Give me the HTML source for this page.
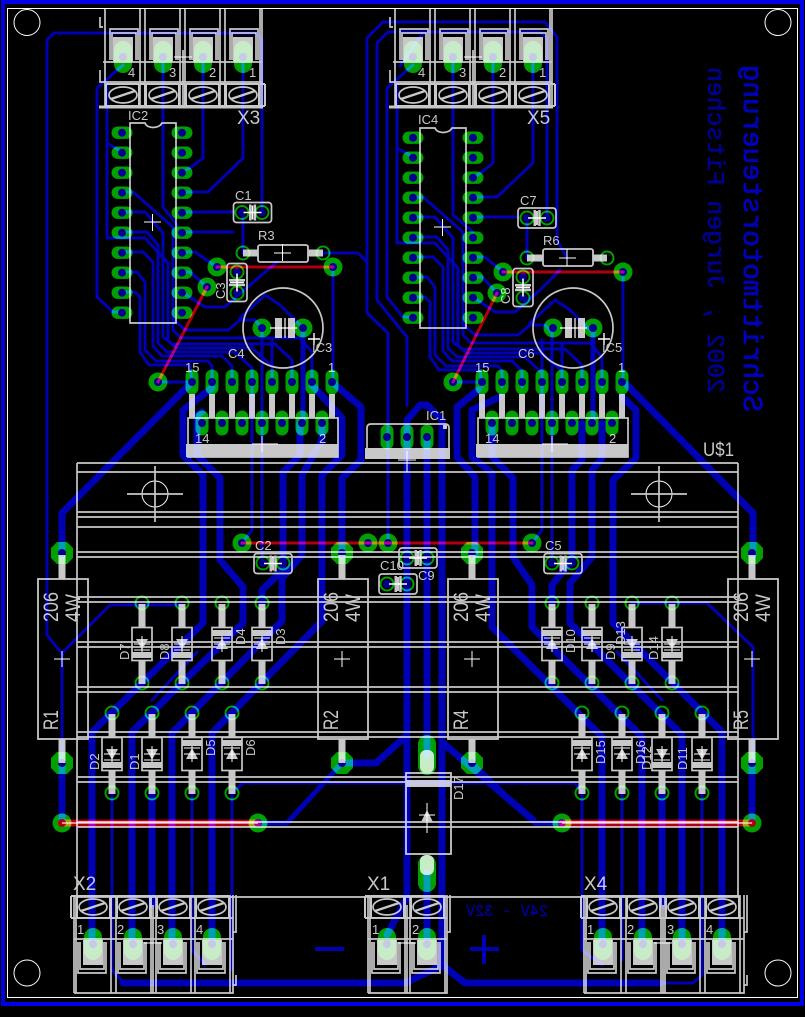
<!DOCTYPE html>
<html><head><meta charset="utf-8"><style>
html,body{margin:0;padding:0;background:#000;width:805px;height:1017px;overflow:hidden}
svg{display:block}
.s{mix-blend-mode:screen}
.t{fill:none;stroke:#0000b4;stroke-linejoin:round;stroke-linecap:round}
.k{fill:none;stroke:#c8c8c8;stroke-width:1.7}
text{font-family:"Liberation Sans",sans-serif;fill:#c8c8c8}
.a{font-size:13px}.b{font-size:21px}.c{font-size:19px}
</style></head><body>
<svg xmlns="http://www.w3.org/2000/svg" width="805" height="1017" viewBox="0 0 805 1017">
<defs>
<rect id="ph" x="-10.500" y="-6.200" width="21" height="12.400" rx="6.200" fill="#00a000"/>
<rect id="pv" x="-6.500" y="-12.500" width="13" height="25" rx="6.500" fill="#00a000"/>
<circle id="via" r="9.500" fill="#00a000"/>
<polygon id="oct" points="-5,-11 5,-11 11,-5 11,5 5,11 -5,11 -11,5 -11,-5" fill="#00a000"/>
<circle id="pr" r="6.500" fill="none" stroke="#00a000" stroke-width="2"/>
<circle id="dr" r="4" fill="#000090"/>
<rect id="tpad" x="-9" y="-16" width="18" height="32" rx="9" fill="#00a000"/>
<g id="tu">
 <path class="k" d="M-18 9V107M17 9V107M-13 60V29H15V60M-11 60V33H13V60"/>
 <rect x="-10" y="37" width="20" height="25" fill="#c8c8c8"/>
 <path d="M-17 84H16M-17 106H16M-17 84V106M16 84V106M17 84H22M17 106H22M22 84V106" fill="none" stroke="#c8c8c8" stroke-width="2"/>
 <ellipse cx="0" cy="95" rx="14" ry="8" fill="none" stroke="#c8c8c8" stroke-width="1.700"/>
 <path d="M-12 99L12 91" stroke="#c8c8c8" stroke-width="2.400"/>
</g>
<g id="dt">
 <path d="M0 -40V-16M0 16V40" stroke="#c8c8c8" stroke-width="7"/>
 <rect x="-10" y="-16.500" width="20" height="33" fill="none" stroke="#c8c8c8" stroke-width="1.700"/>
 <rect x="-10" y="-14" width="20" height="6" fill="#c8c8c8"/>
 <polygon points="-6,5 6,5 0,-6" fill="#c8c8c8"/>
 <path d="M-8 -6H8M-8 0H8M0 -8V8" stroke="#fff" stroke-width="1"/>
</g>
<g id="db">
 <path d="M0 -40V-16M0 16V40" stroke="#c8c8c8" stroke-width="7"/>
 <rect x="-10" y="-16.500" width="20" height="33" fill="none" stroke="#c8c8c8" stroke-width="1.700"/>
 <rect x="-10" y="8" width="20" height="6" fill="#c8c8c8"/>
 <polygon points="-6,-5 6,-5 0,6" fill="#c8c8c8"/>
 <path d="M-8 6H8M-8 0H8M0 -8V8" stroke="#fff" stroke-width="1"/>
</g>
<g id="cap">
 <rect x="-19" y="-10" width="38" height="20" rx="3" fill="none" stroke="#c8c8c8" stroke-width="1.700"/>
 <rect x="-3.500" y="-8" width="2.500" height="16" fill="#c8c8c8"/><rect x="1.200" y="-8" width="2.500" height="16" fill="#c8c8c8"/>
 <path d="M-9 0H9M0 -7V7" stroke="#fff" stroke-width="1.600"/>
</g>
<g id="res">
 <rect x="-24" y="0" width="50" height="160" fill="none" stroke="#c8c8c8" stroke-width="1.800"/>
 <path d="M0 -24V0M0 160V184" stroke="#c8c8c8" stroke-width="7"/>
 <path d="M-8 80H8M0 72V88" stroke="#fff" stroke-width="1"/>
</g>
<g id="mnt">
 <circle r="13" fill="none" stroke="#fff" stroke-width="1"/>
 <path d="M-28 0H28M0 -28V28" stroke="#c8c8c8" stroke-width="1.700"/>
</g>
<g id="ecap">
 <circle r="40" fill="none" stroke="#c8c8c8" stroke-width="1.700"/>
 <rect x="-8" y="-10" width="7" height="20" fill="#c8c8c8"/><rect x="5" y="-10" width="7" height="20" fill="#c8c8c8"/>
 <path d="M-13 0H14M2 -10V10" stroke="#fff" stroke-width="1.200"/>
 <path d="M25 11H37M31 5V17" stroke="#fff" stroke-width="1.400"/>
</g>
<g id="hs">
 <rect x="0" y="0" width="150" height="39" fill="none" stroke="#c8c8c8" stroke-width="1.700"/>
 <rect x="-2" y="26" width="152" height="13" fill="#c8c8c8"/>
 <path d="M4 -24V0M24 -24V0M44 -24V0M64 -24V0M84 -24V0M104 -24V0M124 -24V0M144 -24V0" stroke="#c8c8c8" stroke-width="6"/>
 <path d="M64 26H90M74 18V34" stroke="#fff" stroke-width="1"/>
</g>
<g id="hp">
 <use href="#pv" x="4" y="-36"/><use href="#pv" x="24" y="-36"/><use href="#pv" x="44" y="-36"/><use href="#pv" x="64" y="-36"/><use href="#pv" x="84" y="-36"/><use href="#pv" x="104" y="-36"/><use href="#pv" x="124" y="-36"/><use href="#pv" x="144" y="-36"/>
 <use href="#pv" x="14" y="5"/><use href="#pv" x="34" y="5"/><use href="#pv" x="54" y="5"/><use href="#pv" x="74" y="5"/><use href="#pv" x="94" y="5"/><use href="#pv" x="114" y="5"/><use href="#pv" x="134" y="5"/>
</g>
<g id="hd">
 <use href="#dr" x="4" y="-36"/><use href="#dr" x="24" y="-36"/><use href="#dr" x="44" y="-36"/><use href="#dr" x="64" y="-36"/><use href="#dr" x="84" y="-36"/><use href="#dr" x="104" y="-36"/><use href="#dr" x="124" y="-36"/><use href="#dr" x="144" y="-36"/>
 <use href="#dr" x="14" y="5"/><use href="#dr" x="34" y="5"/><use href="#dr" x="54" y="5"/><use href="#dr" x="74" y="5"/><use href="#dr" x="94" y="5"/><use href="#dr" x="114" y="5"/><use href="#dr" x="134" y="5"/>
</g>
<g id="icp">
 <use href="#ph" x="-30" y="0"/><use href="#ph" x="-30" y="20"/><use href="#ph" x="-30" y="40"/><use href="#ph" x="-30" y="60"/><use href="#ph" x="-30" y="80"/><use href="#ph" x="-30" y="100"/><use href="#ph" x="-30" y="120"/><use href="#ph" x="-30" y="140"/><use href="#ph" x="-30" y="160"/><use href="#ph" x="-30" y="180"/>
 <use href="#ph" x="30" y="0"/><use href="#ph" x="30" y="20"/><use href="#ph" x="30" y="40"/><use href="#ph" x="30" y="60"/><use href="#ph" x="30" y="80"/><use href="#ph" x="30" y="100"/><use href="#ph" x="30" y="120"/><use href="#ph" x="30" y="140"/><use href="#ph" x="30" y="160"/><use href="#ph" x="30" y="180"/>
</g>
<g id="icd">
 <use href="#dr" x="-30" y="0"/><use href="#dr" x="-30" y="20"/><use href="#dr" x="-30" y="40"/><use href="#dr" x="-30" y="60"/><use href="#dr" x="-30" y="80"/><use href="#dr" x="-30" y="100"/><use href="#dr" x="-30" y="120"/><use href="#dr" x="-30" y="140"/><use href="#dr" x="-30" y="160"/><use href="#dr" x="-30" y="180"/>
 <use href="#dr" x="30" y="0"/><use href="#dr" x="30" y="20"/><use href="#dr" x="30" y="40"/><use href="#dr" x="30" y="60"/><use href="#dr" x="30" y="80"/><use href="#dr" x="30" y="100"/><use href="#dr" x="30" y="120"/><use href="#dr" x="30" y="140"/><use href="#dr" x="30" y="160"/><use href="#dr" x="30" y="180"/>
</g>
<path id="icb" class="k" d="M-23 -9H-8C-6 -3 6 -3 9 -9H23V191H-23Z"/>
<g id="bun">
 <path d="M122 192H133L173 227V330L181 338H300L312 352V382"/>
 <path d="M122 212H145L163 233V337L172 344H275L292 360V382"/>
 <path d="M107 238H145L168 263V340L176 348H252L272 366V382"/>
 <path d="M122 232H147L158 245V343L167 352H235L252 368V382"/>
 <path d="M122 252H143L153 262V346L162 356H222L232 366V382"/>
 <path d="M122 272H137L145 282V350L156 361H208L212 366V382"/>
 <path d="M122 292H135L140 297V352L149 365H190L192 382"/>
 <path d="M262 328L255 320H240L228 330H185L172 318"/>
 <path d="M303 328L280 305L265 295L240 318"/>
 <path d="M262 328V423M272 340V382"/>
</g>
</defs>

<rect width="805" height="1017" fill="#000"/>
<rect x="3" y="2" width="799" height="1002" fill="none" stroke="#0000e6" stroke-width="4"/>

<!-- traces -->
<g class="s">
 <g class="t" stroke-width="7">
  <path d="M62 555V513L192 382"/>
  <path d="M62 763V823"/>
  <path d="M212 388L183 410V455L203 475V623L92 732V940"/>
  <path d="M202 412L197 415V455L220 478V560L243 587V623L132 732V940"/>
  <path d="M322 423V440L302 475V555L282 578V621L172 733V940"/>
  <path d="M312 385L342 418V455L322 475V621L212 733V940"/>
  <path d="M300 423V455L283 472V570L262 590V603"/>
  <path d="M332 382L361 407V460L342 478V555"/>
  <path d="M342 763H376L407 735"/>
  <path d="M407 437V420L420 405H427L442 420V965L465 983H660"/>
  <path d="M407 437V897L387 935"/>
  <path d="M427 437V755M427 873V940"/>
  <path d="M123 983H405L443 965"/>
  <path d="M443 743L533 820"/>
  <path d="M627 385L753 513V555"/>
  <path d="M752 763V823"/>
  <path d="M478 390L457 407V457L475 477V555"/>
  <path d="M500 397L472 410V457L492 473V627L602 737V940"/>
  <path d="M492 423V457L513 478V557L532 585V627L642 737V940"/>
  <path d="M582 423V460L572 470V560L552 585V603"/>
  <path d="M602 423V458L592 470V557L570 583V623L682 735V940"/>
  <path d="M622 397L636 410V458L613 480V623L722 732V940"/>
  <path d="M152 793V905M662 793V905"/>
 </g>
 <g class="t" stroke-width="5">
  <path d="M342 763L287 823H258"/>
  <path d="M472 763L535 823H562"/>
  <path d="M303 328V423M593 328V423"/>
 </g>
 <g class="t" stroke-width="3">
  <path d="M63 655L47 635V40L54 33H256L262 40V212"/>
  <path d="M63 652L110 605H182"/>
  <path d="M62 655V763"/>
  <path d="M123 65L97 88V297L113 312H122"/>
  <path d="M107 85V238M107 143L122 152"/>
  <path d="M163 60V207L177 225M203 60V158L190 168L182 172M243 60V158L208 192H182M182 212H233M243 212V253M182 232H233"/>
  <path d="M182 252H195L217 267M182 272H190L207 287M182 292L205 307H225L250 285L277 262"/>
  <path d="M323 253H358L367 262V313L388 333V543M395 22H383L367 38V262M395 32H388L377 43V300L407 337V405"/>
  <path d="M413 65L387 88V297L403 317H413M397 85V243M397 148L413 157"/>
  <path d="M333 267V382M252 382V530L242 543M262 423V563M552 423V563M542 340V530L532 543"/>
  <path d="M112 793V970L123 982M192 793V950L205 965M232 793V970"/>
  <path d="M232 793L243 783H575L582 793"/>
  <path d="M582 793V950L602 965M622 793V960M702 793V975L693 983H660"/>
  <path d="M632 603H707L753 647V763"/>
  <path d="M453 60V215L473 232M493 60V163L478 175L473 177M533 60V163L497 197H473M473 217H518M527 218V258"/>
  <path d="M400 32H540L547 38V218M395 22H545L557 37V240L567 258"/>
  <path d="M473 257H485L503 272M473 277H482L497 293M473 297L495 312H515L540 290L560 270"/>
  <path d="M623 272V382M400 66L423 33"/>
  <path d="M152 700L197 652M662 700L617 652"/>
  <use href="#bun"/>
  <use href="#bun" transform="translate(290,5)"/>
 </g>
 <path d="M453 382H482M158 382H192" class="t" stroke-width="3"/>
 <text transform="translate(744,412) scale(-1,1) rotate(-90)" style="font-family:'Liberation Mono',monospace;font-size:27px;fill:#0000b4;stroke:#0000b4;stroke-width:.9" textLength="347" lengthAdjust="spacingAndGlyphs">Schrittmotorsteuerung</text>
 <text transform="translate(708,393) scale(-1,1) rotate(-90)" style="font-family:'Liberation Mono',monospace;font-size:24px;fill:#000090;stroke:#000090;stroke-width:.6" textLength="326" lengthAdjust="spacingAndGlyphs">2002 , Jurgen Fitschen</text>
 <text transform="translate(548,916) scale(-1,1)" style="font-family:'Liberation Mono',monospace;font-size:17px;fill:#000090;stroke:#000090;stroke-width:.5" textLength="82" lengthAdjust="spacingAndGlyphs">24V - 32V</text>
 <path d="M315 949H344M470 949H499M484 935V964" stroke="#0000b4" stroke-width="4" fill="none"/>
</g>

<!-- pads -->
<g class="s">
 <use href="#icp" x="152" y="132.700"/><use href="#icp" x="443" y="137.700"/>
 <use href="#hp" x="188" y="418"/><use href="#hp" x="478" y="418"/>
 <use href="#pv" x="387" y="437"/><use href="#pv" x="407" y="437"/><use href="#pv" x="427" y="437"/>
 <use href="#tpad" x="123" y="57"/><use href="#tpad" x="163" y="57"/><use href="#tpad" x="203" y="57"/><use href="#tpad" x="243" y="57"/>
 <use href="#tpad" x="413" y="57"/><use href="#tpad" x="453" y="57"/><use href="#tpad" x="493" y="57"/><use href="#tpad" x="533" y="57"/>
 <use href="#tpad" x="93" y="944"/><use href="#tpad" x="133" y="944"/><use href="#tpad" x="173" y="944"/><use href="#tpad" x="212" y="944"/>
 <use href="#tpad" x="387" y="944"/><use href="#tpad" x="427" y="944"/>
 <use href="#tpad" x="603" y="944"/><use href="#tpad" x="643" y="944"/><use href="#tpad" x="682" y="944"/><use href="#tpad" x="722" y="944"/>
 <use href="#via" x="217" y="267"/><use href="#via" x="333" y="267"/><use href="#via" x="207" y="287"/><use href="#via" x="158" y="382"/>
 <use href="#via" x="503" y="272"/><use href="#via" x="623" y="272"/><use href="#via" x="497" y="293"/><use href="#via" x="453" y="382"/>
 <use href="#via" x="242" y="543"/><use href="#via" x="368" y="543"/><use href="#via" x="388" y="543"/><use href="#via" x="532" y="543"/>
 <use href="#via" x="62" y="823"/><use href="#via" x="258" y="823"/><use href="#via" x="562" y="823"/><use href="#via" x="752" y="823"/>
 <use href="#via" x="262" y="328"/><use href="#via" x="303" y="328"/><use href="#via" x="553" y="328"/><use href="#via" x="593" y="328"/>
 <use href="#oct" x="62" y="553"/><use href="#oct" x="62" y="763"/><use href="#oct" x="342" y="553"/><use href="#oct" x="342" y="763"/>
 <use href="#oct" x="472" y="553"/><use href="#oct" x="472" y="763"/><use href="#oct" x="752" y="553"/><use href="#oct" x="752" y="763"/>
 <rect x="418" y="735" width="18" height="40" rx="9" fill="#00a000"/><rect x="418" y="855" width="18" height="37" rx="9" fill="#00a000"/>
 <use href="#pr" x="142" y="603"/><use href="#pr" x="182" y="603"/><use href="#pr" x="222" y="603"/><use href="#pr" x="262" y="603"/>
 <use href="#pr" x="142" y="683"/><use href="#pr" x="182" y="683"/><use href="#pr" x="222" y="683"/><use href="#pr" x="262" y="683"/>
 <use href="#pr" x="112" y="713"/><use href="#pr" x="152" y="713"/><use href="#pr" x="192" y="713"/><use href="#pr" x="232" y="713"/>
 <use href="#pr" x="112" y="793"/><use href="#pr" x="152" y="793"/><use href="#pr" x="192" y="793"/><use href="#pr" x="232" y="793"/>
 <use href="#pr" x="552" y="603"/><use href="#pr" x="592" y="603"/><use href="#pr" x="632" y="603"/><use href="#pr" x="672" y="603"/>
 <use href="#pr" x="552" y="683"/><use href="#pr" x="592" y="683"/><use href="#pr" x="632" y="683"/><use href="#pr" x="672" y="683"/>
 <use href="#pr" x="582" y="713"/><use href="#pr" x="622" y="713"/><use href="#pr" x="662" y="713"/><use href="#pr" x="702" y="713"/>
 <use href="#pr" x="582" y="793"/><use href="#pr" x="622" y="793"/><use href="#pr" x="662" y="793"/><use href="#pr" x="702" y="793"/>
 <use href="#pr" x="242" y="212.500"/><use href="#pr" x="262" y="212.500"/><use href="#pr" x="243" y="253"/><use href="#pr" x="323" y="253"/>
 <use href="#pr" x="237" y="272"/><use href="#pr" x="237" y="293"/>
 <use href="#pr" x="527" y="218"/><use href="#pr" x="547" y="218"/><use href="#pr" x="527" y="258"/><use href="#pr" x="607" y="258"/>
 <use href="#pr" x="523" y="277"/><use href="#pr" x="523" y="298"/>
 <use href="#pr" x="263" y="563"/><use href="#pr" x="283" y="563"/><use href="#pr" x="552" y="563"/><use href="#pr" x="572" y="563"/>
 <use href="#pr" x="407" y="558"/><use href="#pr" x="427" y="558"/><use href="#pr" x="387" y="584"/><use href="#pr" x="407" y="584"/>
</g>

<!-- drills -->
<g>
 <use href="#icd" x="152" y="132.700"/><use href="#icd" x="443" y="137.700"/>
 <use href="#hd" x="188" y="418"/><use href="#hd" x="478" y="418"/>
 <use href="#dr" x="123" y="57"/><use href="#dr" x="163" y="57"/><use href="#dr" x="203" y="57"/><use href="#dr" x="243" y="57"/>
 <use href="#dr" x="413" y="57"/><use href="#dr" x="453" y="57"/><use href="#dr" x="493" y="57"/><use href="#dr" x="533" y="57"/>
 <use href="#dr" x="93" y="944"/><use href="#dr" x="133" y="944"/><use href="#dr" x="173" y="944"/><use href="#dr" x="212" y="944"/>
 <use href="#dr" x="387" y="944"/><use href="#dr" x="427" y="944"/>
 <use href="#dr" x="603" y="944"/><use href="#dr" x="643" y="944"/><use href="#dr" x="682" y="944"/><use href="#dr" x="722" y="944"/>
 <use href="#dr" x="217" y="267"/><use href="#dr" x="333" y="267"/><use href="#dr" x="207" y="287"/><use href="#dr" x="158" y="382"/>
 <use href="#dr" x="503" y="272"/><use href="#dr" x="623" y="272"/><use href="#dr" x="497" y="293"/><use href="#dr" x="453" y="382"/>
 <use href="#dr" x="242" y="543"/><use href="#dr" x="368" y="543"/><use href="#dr" x="388" y="543"/><use href="#dr" x="532" y="543"/>
 <use href="#dr" x="258" y="823"/><use href="#dr" x="562" y="823"/>
 <use href="#dr" x="262" y="328"/><use href="#dr" x="303" y="328"/><use href="#dr" x="553" y="328"/><use href="#dr" x="593" y="328"/>
 <use href="#dr" x="387" y="437"/><use href="#dr" x="407" y="437"/><use href="#dr" x="427" y="437"/>
 <use href="#dr" x="62" y="553"/><use href="#dr" x="62" y="763"/><use href="#dr" x="342" y="553"/><use href="#dr" x="342" y="763"/>
 <use href="#dr" x="472" y="553"/><use href="#dr" x="472" y="763"/><use href="#dr" x="752" y="553"/><use href="#dr" x="752" y="763"/>
 <use href="#dr" x="242" y="212.500"/><use href="#dr" x="262" y="212.500"/><use href="#dr" x="237" y="272"/><use href="#dr" x="237" y="293"/>
 <use href="#dr" x="527" y="218"/><use href="#dr" x="547" y="218"/><use href="#dr" x="523" y="277"/><use href="#dr" x="523" y="298"/>
 <use href="#dr" x="263" y="563"/><use href="#dr" x="283" y="563"/><use href="#dr" x="552" y="563"/><use href="#dr" x="572" y="563"/>
 <use href="#dr" x="407" y="558"/><use href="#dr" x="427" y="558"/><use href="#dr" x="387" y="584"/><use href="#dr" x="407" y="584"/>
</g>

<!-- red top layer -->
<g class="s" fill="none" stroke="#b00010" stroke-linecap="round">
 <path d="M217 267H333M207 287L158 382M503 272H623M497 293L453 382M242 543H532" stroke-width="3"/>
 <path d="M62 823H258M562 823H752" stroke-width="7"/>
</g>
<circle cx="62" cy="823" r="4" fill="#b00010"/><circle cx="752" cy="823" r="4" fill="#b00010"/>

<!-- silk -->
<g class="s">
 <path class="k" d="M77 463H738M77 472H738M77 512H738M77 517H738M77 527H738M77 552H738M77 557H738M77 597H738M77 602H738M77 642H738M77 647H738M77 687H738M77 692H738M77 732H738M77 737H738M77 777H738M77 782H738M77 822H738M77 827H738M77 897H738M77 463V897M738 463V897"/>
 <use href="#mnt" x="155" y="494"/><use href="#mnt" x="659" y="494"/>

 <use href="#tu" x="123"/><use href="#tu" x="163"/><use href="#tu" x="203"/><use href="#tu" x="243"/>
 <use href="#tu" x="413"/><use href="#tu" x="453"/><use href="#tu" x="493"/><use href="#tu" x="533"/>
 <path class="k" d="M103 62H262M103 82H262M262 9V107M100 17V27H103M100 70V82H103M183 50V107M393 62H552M393 82H552M552 9V107M390 17V27H393M390 70V82H393M473 50V107"/>
 <path d="M99 107H263M389 107H553" stroke="#c8c8c8" stroke-width="3"/>
 <path d="M174 57H192M464 57H482" stroke="#fff" stroke-width="1"/>

 <use href="#tu" transform="translate(93,1002) rotate(180)"/><use href="#tu" transform="translate(133,1002) rotate(180)"/><use href="#tu" transform="translate(173,1002) rotate(180)"/><use href="#tu" transform="translate(212,1002) rotate(180)"/>
 <use href="#tu" transform="translate(387,1002) rotate(180)"/><use href="#tu" transform="translate(427,1002) rotate(180)"/>
 <use href="#tu" transform="translate(603,1002) rotate(180)"/><use href="#tu" transform="translate(643,1002) rotate(180)"/><use href="#tu" transform="translate(682,1002) rotate(180)"/><use href="#tu" transform="translate(722,1002) rotate(180)"/>
 <path class="k" d="M74 918H233M74 939H233M74 895V993M233 895V993H74M153 905V993M236 895V932H233M236 975V985H233M368 918H447M368 939H447M368 895V993M447 895V993H368M407 905V993M450 895V932H447M584 918H744M584 939H744M584 895V993M744 895V993H584M663 905V993M747 895V932H744M747 975V985H744"/>
 <path d="M144 943H162M398 943H416M654 943H672" stroke="#fff" stroke-width="1"/>

 <use href="#icb" x="153" y="132"/><use href="#icb" x="443" y="137"/>
 <path d="M144 222H161M152.500 214V231M434 227H451M442.500 219V236" stroke="#fff" stroke-width="1"/>

 <use href="#cap" x="252.500" y="212.500"/><use href="#cap" x="537" y="218"/>
 <use href="#cap" transform="translate(237,282.500) rotate(90)"/><use href="#cap" transform="translate(523,287.500) rotate(90)"/>
 <use href="#cap" x="273" y="563.500"/><use href="#cap" x="563" y="563.500"/><use href="#cap" x="418" y="558"/><use href="#cap" x="398" y="584"/>

 <path d="M243 253H258M308 253H323M527 258H543M593 258H607" stroke="#c8c8c8" stroke-width="7"/>
 <rect x="258" y="245" width="50" height="17" rx="2" fill-opacity="0" stroke="#c8c8c8" stroke-width="1.800"/>
 <rect x="543" y="249" width="50" height="17" rx="2" fill-opacity="0" stroke="#c8c8c8" stroke-width="1.800"/>
 <path d="M274 253H291M282.500 244V261M559 258H576M567 249V266" stroke="#fff" stroke-width="1"/>

 <use href="#ecap" x="283" y="328"/><use href="#ecap" x="573" y="328"/>
 <use href="#hs" x="188" y="418"/><use href="#hs" x="478" y="418"/>

 <path class="k" d="M367 448V428Q367 424 371 424H445Q449 424 449 428V448"/>
 <rect x="365" y="448" width="85" height="11" fill="#c8c8c8"/>
 <rect x="443" y="425" width="4" height="4" fill="#c8c8c8"/>
 <path d="M398 460H416M407 451V472" stroke="#fff" stroke-width="1"/>

 <use href="#res" x="62" y="579"/><use href="#res" x="342" y="579"/><use href="#res" x="472" y="579"/><use href="#res" x="752" y="579"/>

 <use href="#db" x="142" y="644"/><use href="#db" x="182" y="644"/><use href="#dt" x="222" y="644"/><use href="#dt" x="262" y="644"/>
 <use href="#db" x="112" y="754"/><use href="#db" x="152" y="754"/><use href="#dt" x="192" y="754"/><use href="#dt" x="232" y="754"/>
 <use href="#dt" x="552" y="644"/><use href="#dt" x="592" y="644"/><use href="#db" x="632" y="644"/><use href="#db" x="672" y="644"/>
 <use href="#dt" x="582" y="754"/><use href="#dt" x="622" y="754"/><use href="#db" x="662" y="754"/><use href="#db" x="702" y="754"/>

 <rect x="406" y="773" width="45" height="81" fill="none" stroke="#c8c8c8" stroke-width="1.800"/>
 <rect x="406" y="780" width="45" height="7" fill="#c8c8c8"/>
 <rect x="420" y="750" width="14" height="23" rx="6" fill="#c8c8c8"/><rect x="420" y="855" width="14" height="20" rx="6" fill="#c8c8c8"/>
 <polygon points="421,822 433,822 427,810" fill="#c8c8c8"/>
 <path d="M419 815H435M427 803V833" stroke="#fff" stroke-width="1"/>

 <text class="a" x="128" y="120">IC2</text><text class="a" x="418" y="124">IC4</text>
 <text class="c" x="237" y="124">X3</text><text class="c" x="527" y="124">X5</text>
 <text class="a" x="128" y="77">4</text><text class="a" x="169" y="77">3</text><text class="a" x="209" y="77">2</text><text class="a" x="249" y="77">1</text>
 <text class="a" x="418" y="77">4</text><text class="a" x="459" y="77">3</text><text class="a" x="499" y="77">2</text><text class="a" x="539" y="77">1</text>
 <text class="a" x="235" y="200">C1</text><text class="a" x="520" y="205">C7</text>
 <text class="a" x="258" y="240">R3</text><text class="a" x="543" y="245">R6</text>
 <text class="a" transform="translate(225,299) rotate(-90)">C3</text><text class="a" transform="translate(510,304) rotate(-90)">C8</text>
 <text class="a" x="228" y="358">C4</text><text class="a" x="518" y="358">C6</text>
 <text class="a" x="312" y="352">IC3</text><text class="a" x="602" y="352">IC5</text>
 <text class="a" x="185" y="372">15</text><text class="a" x="328" y="372">1</text><text class="a" x="475" y="372">15</text><text class="a" x="618" y="372">1</text>
 <text class="a" x="195" y="443">14</text><text class="a" x="319" y="443">2</text><text class="a" x="485" y="443">14</text><text class="a" x="609" y="443">2</text>
 <text class="a" x="426" y="420">IC1</text>
 <text class="c" x="703" y="456" textLength="31" lengthAdjust="spacingAndGlyphs">U$1</text>
 <text class="a" x="255" y="550">C2</text><text class="a" x="545" y="550">C5</text><text class="a" x="380" y="570">C10</text><text class="a" x="418" y="580">C9</text>

 <text class="b" transform="translate(58,622) rotate(-90)" textLength="30" lengthAdjust="spacingAndGlyphs">206</text>
 <text class="b" transform="translate(80,622) rotate(-90)" textLength="28" lengthAdjust="spacingAndGlyphs">4W</text>
 <text class="b" transform="translate(58,730) rotate(-90)" textLength="20" lengthAdjust="spacingAndGlyphs">R1</text>
 <text class="b" transform="translate(338,622) rotate(-90)" textLength="30" lengthAdjust="spacingAndGlyphs">206</text>
 <text class="b" transform="translate(360,622) rotate(-90)" textLength="28" lengthAdjust="spacingAndGlyphs">4W</text>
 <text class="b" transform="translate(338,730) rotate(-90)" textLength="20" lengthAdjust="spacingAndGlyphs">R2</text>
 <text class="b" transform="translate(468,622) rotate(-90)" textLength="30" lengthAdjust="spacingAndGlyphs">206</text>
 <text class="b" transform="translate(490,622) rotate(-90)" textLength="28" lengthAdjust="spacingAndGlyphs">4W</text>
 <text class="b" transform="translate(468,730) rotate(-90)" textLength="20" lengthAdjust="spacingAndGlyphs">R4</text>
 <text class="b" transform="translate(748,622) rotate(-90)" textLength="30" lengthAdjust="spacingAndGlyphs">206</text>
 <text class="b" transform="translate(770,622) rotate(-90)" textLength="28" lengthAdjust="spacingAndGlyphs">4W</text>
 <text class="b" transform="translate(748,730) rotate(-90)" textLength="20" lengthAdjust="spacingAndGlyphs">R5</text>

 <text class="a" transform="translate(129,660) rotate(-90)">D7</text>
 <text class="a" transform="translate(169,660) rotate(-90)">D8</text>
 <text class="a" transform="translate(245,645) rotate(-90)">D4</text>
 <text class="a" transform="translate(285,645) rotate(-90)">D3</text>
 <text class="a" transform="translate(99,770) rotate(-90)">D2</text>
 <text class="a" transform="translate(139,770) rotate(-90)">D1</text>
 <text class="a" transform="translate(215,756) rotate(-90)">D5</text>
 <text class="a" transform="translate(255,756) rotate(-90)">D6</text>
 <text class="a" transform="translate(575,653) rotate(-90)">D10</text>
 <text class="a" transform="translate(615,660) rotate(-90)">D9</text>
 <text class="a" transform="translate(625,645) rotate(-90)">D13</text>
 <text class="a" transform="translate(658,660) rotate(-90)">D14</text>
 <text class="a" transform="translate(605,764) rotate(-90)">D15</text>
 <text class="a" transform="translate(645,764) rotate(-90)">D16</text>
 <text class="a" transform="translate(651,770) rotate(-90)">D12</text>
 <text class="a" transform="translate(687,770) rotate(-90)">D11</text>
 <text class="a" transform="translate(463,800) rotate(-90)">D17</text>

 <text class="c" x="73" y="890">X2</text><text class="c" x="367" y="890">X1</text><text class="c" x="584" y="890">X4</text>
 <text class="a" x="77" y="934">1</text><text class="a" x="117" y="934">2</text><text class="a" x="157" y="934">3</text><text class="a" x="196" y="934">4</text>
 <text class="a" x="372" y="934">1</text><text class="a" x="412" y="934">2</text>
 <text class="a" x="587" y="934">1</text><text class="a" x="627" y="934">2</text><text class="a" x="667" y="934">3</text><text class="a" x="706" y="934">4</text>

 <path d="M62 823H258M562 823H752" stroke="#fff" stroke-opacity=".75" stroke-width="1.500"/>
</g>

<!-- white outline and drill marks -->
<g fill="none" stroke="#fff" stroke-width="1">
 <rect x="7.500" y="8.500" width="790" height="989"/>
 <circle cx="27" cy="22.500" r="13"/><circle cx="778" cy="22.500" r="13"/><circle cx="27" cy="973" r="13"/><circle cx="778" cy="973" r="13"/>
</g>
</svg>
</body></html>
